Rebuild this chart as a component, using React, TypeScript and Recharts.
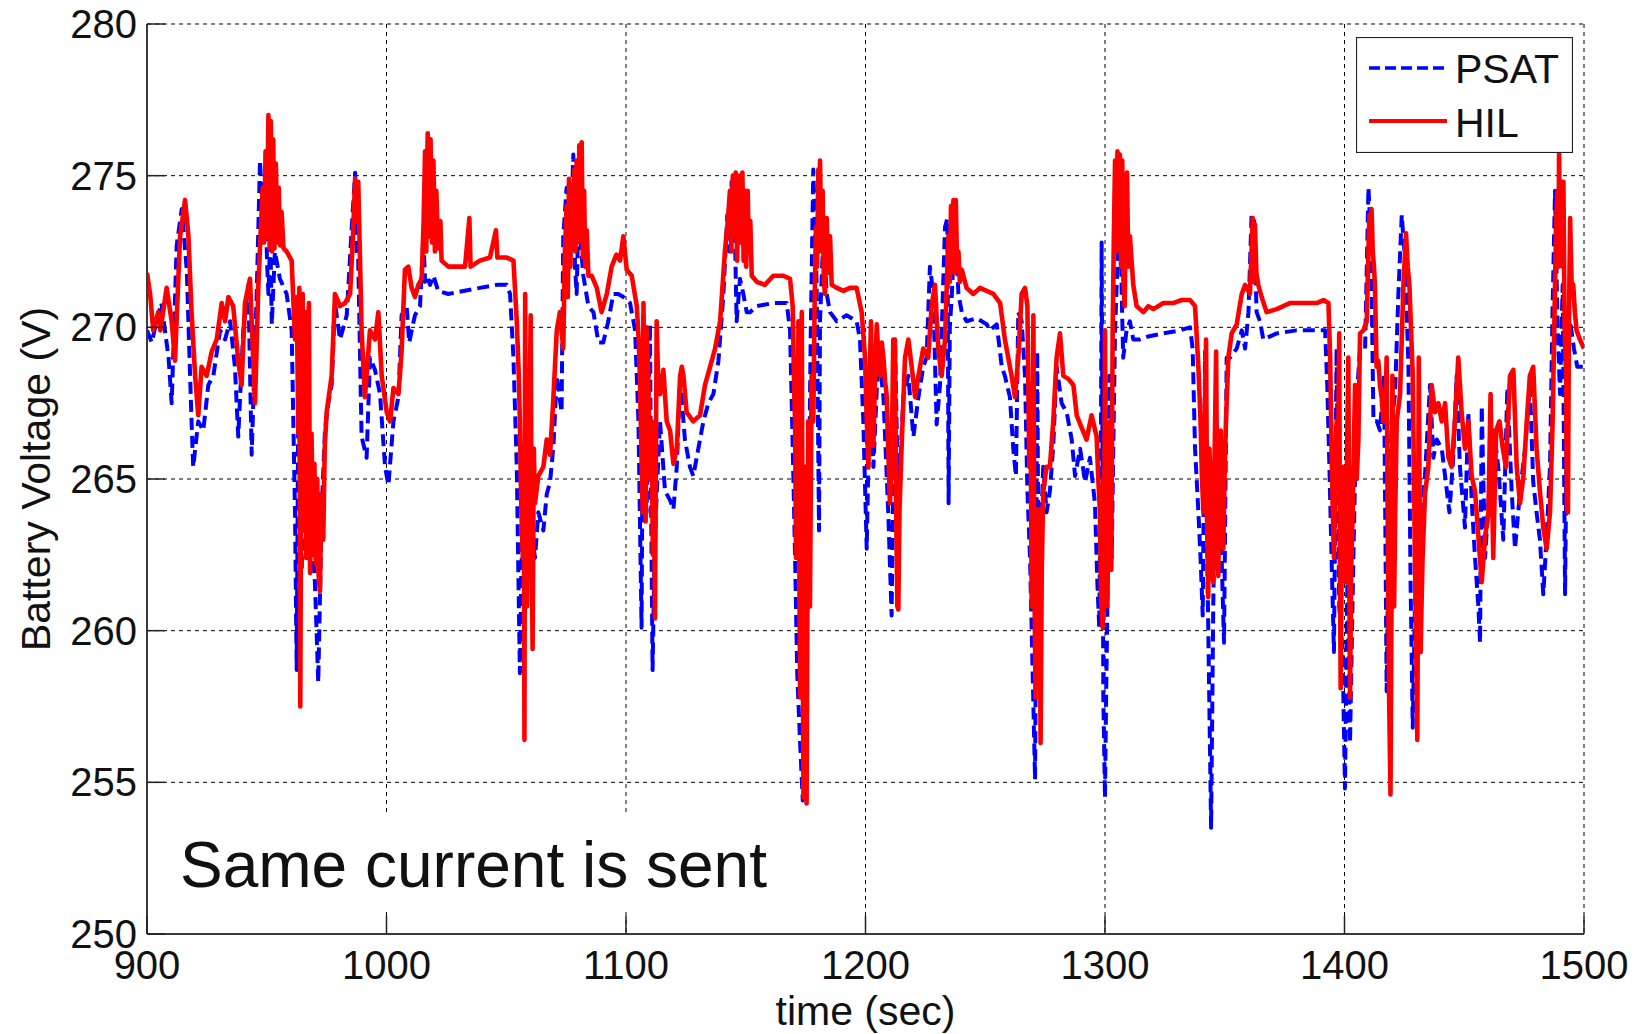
import React from 'react';
import { LineChart, Line, XAxis, YAxis, CartesianGrid, Legend } from 'recharts';

// ---- axis ticks ----
const xTicks = [900, 1000, 1100, 1200, 1300, 1400, 1500];
const yTicks = [250, 255, 260, 265, 270, 275, 280];

// ---- series: [time (sec), battery voltage (V)] ----
const psatPoints: [number, number][] = [
  [900, 269.9], [902, 269.5], [904, 270.2], [906, 270.8], [909, 269.0], [910.3, 267.5], [912.4, 272.7], [914.5, 273.9],
  [916.6, 271.9], [918.6, 266.9], [919.3, 265.4], [921.4, 266.9], [923.5, 266.6], [925.6, 268.1], [927.7, 268.4],
  [930.5, 269.9], [932.6, 269.6], [934.7, 270.2], [936.7, 268.7], [938.1, 266.4], [940.2, 269.9], [942.3, 271.4],
  [943.7, 265.8], [945.8, 271.1], [947.2, 275.5], [948.3, 273.5], [949.3, 274.5], [950.2, 272.0], [950.7, 271.1],
  [951.5, 273.0], [952.1, 270.1], [953.4, 272.5], [955.5, 271.6], [958.3, 271.1], [960.4, 269.9], [961.8, 263.9],
  [962.5, 258.7], [963.2, 268.0], [963.9, 265.1], [964.6, 262.0], [965.3, 266.0], [966.0, 263.9], [967.0, 266.0],
  [968.1, 265.4], [969.0, 263.0], [970.1, 261.6], [970.8, 260.0], [971.5, 258.3], [972.2, 261.0], [972.9, 263.9],
  [974.3, 266.6], [975.7, 267.5], [977.1, 268.1], [978.5, 270.8], [980.6, 269.6], [983.4, 270.4], [985.5, 273.3],
  [986.9, 275.1], [987.5, 272.5], [988.2, 272.2], [989.6, 266.4], [991.7, 265.7], [993.1, 269.0], [995.2, 268.6],
  [997.3, 267.8], [999.4, 265.4], [1000.8, 264.8], [1002.9, 266.9], [1005.0, 267.7], [1006.3, 270.4], [1008.4, 270.7],
  [1009.5, 269.5], [1010.5, 269.9], [1011.9, 270.4], [1014.0, 270.7], [1015.4, 273.0], [1016.1, 271.5], [1016.8, 271.7],
  [1018.2, 271.4], [1019.6, 271.7], [1021.6, 271.2], [1025.8, 271.1], [1032.1, 271.2], [1039.0, 271.3], [1046.0, 271.4],
  [1050.2, 271.4], [1051.6, 271.1], [1053.0, 269.0], [1054.4, 265.4], [1055.0, 262.2], [1055.7, 258.6], [1056.3, 262.0],
  [1057.1, 263.9], [1057.8, 260.5], [1058.5, 262.4], [1059.2, 264.0], [1059.9, 264.6], [1061.0, 263.0], [1062.0, 262.4],
  [1063.4, 263.9], [1065.5, 263.3], [1066.9, 264.5], [1068.3, 264.9], [1069.7, 266.1], [1071.1, 268.4], [1073.1, 267.2],
  [1073.8, 273.0], [1075.2, 274.6], [1076.6, 272.2], [1078.0, 275.7], [1078.7, 272.0], [1079.4, 271.1], [1080.1, 273.5],
  [1080.8, 273.0], [1082.2, 271.7], [1084.3, 270.7], [1086.4, 270.5], [1088.5, 269.5], [1090.5, 269.5], [1092.6, 270.2],
  [1094.7, 271.1], [1096.8, 271.1], [1098.9, 271.0], [1101.7, 270.8], [1103.8, 269.9], [1105.2, 266.9], [1106.5, 260.1],
  [1107.2, 270.4], [1107.8, 265.0], [1108.6, 263.9], [1109.3, 267.0], [1110.0, 270.1], [1110.5, 264.0], [1111.1, 258.7],
  [1111.8, 262.0], [1112.5, 263.9], [1114.2, 266.9], [1116.3, 264.6], [1118.4, 264.3], [1119.8, 264.0], [1121.2, 265.4],
  [1122.6, 268.3], [1124.6, 266.3], [1126.7, 265.4], [1128.1, 265.1], [1130.2, 266.0], [1132.3, 266.9], [1134.4, 267.5],
  [1136.5, 267.8], [1138.6, 268.9], [1140.6, 271.0], [1142.3, 273.7], [1143.2, 272.5], [1144.1, 274.8], [1144.8, 273.5],
  [1145.5, 273.0], [1146.2, 270.2], [1147.6, 271.6], [1149.0, 271.1], [1150.4, 270.5], [1151.8, 270.5], [1154.6, 270.7],
  [1161.5, 270.8], [1167.1, 270.8], [1168.5, 269.9], [1169.6, 266.1], [1170.6, 262.4], [1171.5, 258.6], [1172.7, 256.3],
  [1173.8, 254.4], [1174.7, 259.3], [1176.1, 262.4], [1177.1, 269.6], [1178.2, 275.2], [1179.0, 273.0], [1179.6, 271.4],
  [1180.6, 263.3], [1181.0, 270.2], [1182.4, 273.0], [1183.8, 271.1], [1185.2, 270.5], [1188.0, 270.2], [1192.1, 270.4],
  [1196.3, 270.2], [1197.7, 269.6], [1199.1, 266.9], [1200.5, 262.7], [1201.9, 268.4], [1203.3, 265.4], [1205.4, 269.2],
  [1207.5, 267.7], [1209.5, 263.9], [1210.9, 260.5], [1212.3, 269.6], [1213.7, 264.0], [1215.8, 267.7], [1217.9, 268.4],
  [1220.0, 266.4], [1222.1, 267.7], [1224.1, 268.7], [1225.5, 269.0], [1226.9, 272.0], [1228.3, 271.1], [1229.7, 266.8],
  [1231.1, 268.1], [1233.2, 273.3], [1234.2, 273.6], [1234.7, 264.2], [1235.2, 270.0], [1236.0, 271.0], [1237.4, 273.6],
  [1238.8, 271.1], [1240.2, 270.5], [1242.2, 270.2], [1246.4, 270.3], [1250.6, 270.1], [1252.0, 269.9], [1254.8, 270.1],
  [1256.9, 268.7], [1258.2, 268.4], [1260.3, 267.7], [1261.7, 266.0], [1262.8, 265.1], [1263.8, 270.5], [1265.2, 270.2],
  [1266.6, 268.4], [1267.6, 264.6], [1268.7, 262.4], [1269.8, 258.6], [1270.8, 255.1], [1271.3, 262.0], [1271.7, 269.2],
  [1272.2, 262.0], [1272.9, 262.4], [1274.2, 265.4], [1275.6, 263.9], [1277.0, 264.6], [1278.4, 266.1], [1279.8, 268.7],
  [1281.9, 267.5], [1284.0, 267.2], [1286.1, 266.3], [1287.5, 265.1], [1289.6, 266.0], [1291.7, 264.9], [1293.7, 265.7],
  [1295.8, 264.2], [1296.8, 261.6], [1297.6, 260.1], [1298.3, 266.0], [1298.6, 272.8], [1299.0, 265.0], [1299.3, 257.8],
  [1300.0, 254.5], [1300.5, 258.0], [1301.0, 260.8], [1301.8, 268.4], [1302.8, 262.4], [1304.2, 269.9], [1305.6, 273.0],
  [1306.3, 274.5], [1307.0, 271.0], [1307.6, 269.0], [1309.0, 269.9], [1310.4, 270.2], [1311.8, 269.6], [1314.6, 269.6],
  [1318.1, 269.7], [1324.4, 269.8], [1331.3, 269.9], [1335.5, 270.0], [1336.6, 269.3], [1337.6, 266.0], [1339.0, 263.9],
  [1339.9, 262.4], [1340.8, 260.5], [1341.8, 269.2], [1342.7, 262.4], [1343.8, 256.3], [1344.3, 253.5], [1345.2, 260.8],
  [1346.4, 267.2], [1347.7, 263.9], [1348.7, 262.4], [1349.7, 259.6], [1350.8, 269.0], [1352.2, 269.0], [1355.0, 269.3],
  [1357.1, 269.9], [1358.5, 269.3], [1359.9, 270.5], [1361.2, 273.7], [1362.2, 273.6], [1363.3, 270.5], [1364.7, 270.2],
  [1366.1, 269.6], [1371.7, 269.8], [1380.0, 269.9], [1387.0, 269.9], [1391.9, 269.9], [1392.8, 268.1], [1393.7, 265.4],
  [1394.6, 262.4], [1395.6, 259.3], [1396.7, 269.3], [1397.8, 260.8], [1399.2, 259.3], [1400.2, 254.8], [1401.2, 261.6],
  [1402.3, 256.3], [1403.7, 262.4], [1405.1, 267.7], [1406.5, 269.3], [1408.6, 269.3], [1410.0, 274.6], [1411.0, 273.0],
  [1412.1, 266.9], [1413.5, 266.9], [1414.8, 266.6], [1416.5, 268.4], [1417.2, 262.0], [1417.6, 258.0], [1418.3, 262.4],
  [1419.7, 266.9], [1421.1, 267.8], [1422.5, 271.1], [1423.9, 273.7], [1425.3, 272.2], [1426.7, 268.7], [1427.6, 261.5],
  [1428.5, 256.8], [1429.4, 260.8], [1430.8, 262.4], [1432.2, 263.9], [1433.6, 265.1], [1435.7, 268.1], [1437.1, 265.7],
  [1438.5, 266.3], [1440.6, 266.0], [1442.0, 265.1], [1443.8, 263.9], [1445.4, 265.7], [1446.8, 268.4], [1448.2, 265.4],
  [1450.3, 263.4], [1451.7, 267.2], [1453.1, 264.3], [1454.5, 262.4], [1455.9, 260.8], [1456.6, 259.6], [1457.3, 267.4],
  [1458.7, 262.4], [1460.8, 265.1], [1462.4, 266.6], [1464.2, 265.4], [1466.3, 263.0], [1468.0, 268.0], [1469.8, 264.6],
  [1471.2, 262.7], [1473.3, 264.6], [1475.4, 266.0], [1477.4, 268.1], [1478.8, 264.9], [1480.2, 263.9], [1481.6, 263.0],
  [1483.0, 261.2], [1484.4, 263.1], [1485.8, 265.4], [1486.9, 270.7], [1487.9, 274.5], [1489.0, 269.9], [1490.0, 267.8],
  [1491.1, 271.4], [1492.1, 261.2], [1493.0, 268.4], [1494.2, 270.2], [1495.8, 269.3], [1497.2, 268.7], [1500.0, 268.7],
];

const hilPoints: [number, number][] = [
  [900, 271.8], [901.3, 271.1], [902.6, 269.9], [904.7, 270.5], [905.6, 269.9], [908.2, 271.3], [910.3, 270.2], [911.7, 268.9],
  [913.8, 273.0], [915.9, 274.2], [917.3, 273.0], [918.6, 270.5], [920.1, 268.4], [921.4, 267.1], [922.8, 268.7],
  [924.9, 268.4], [927.0, 269.2], [929.1, 269.6], [931.2, 270.8], [932.6, 270.2], [934.0, 271.0], [936.0, 270.7],
  [938.1, 268.9], [939.5, 268.1], [940.9, 270.8], [943.0, 271.6], [945.1, 267.5], [946.5, 271.4], [947.5, 273.2],
  [948.3, 274.6], [948.9, 272.8], [949.5, 275.8], [950.1, 273.0], [950.7, 277.0], [951.2, 272.6], [951.7, 276.8],
  [952.2, 272.5], [952.7, 276.2], [953.2, 272.6], [953.8, 275.4], [954.4, 272.8], [955.0, 274.6], [955.6, 272.7],
  [956.2, 273.8], [957.0, 272.6], [958.3, 272.5], [960.4, 272.2], [961.8, 269.6], [962.5, 271.0], [963.2, 266.5],
  [963.6, 271.3], [964.0, 257.5], [964.5, 268.0], [965.0, 271.1], [965.5, 263.5], [966.0, 270.5], [966.5, 262.4],
  [967.0, 269.0], [967.6, 270.8], [968.1, 261.9], [968.7, 266.5], [969.3, 262.5], [969.9, 265.5], [970.5, 262.2],
  [971.1, 265.0], [971.6, 261.9], [972.2, 261.3], [972.8, 264.5], [973.6, 263.0], [974.2, 266.0], [975.0, 267.2],
  [977.1, 268.4], [978.5, 271.1], [980.6, 270.7], [982.7, 270.8], [984.8, 271.1], [986.0, 273.0], [986.9, 274.9],
  [987.5, 273.5], [988.2, 274.8], [989.6, 269.9], [991.0, 267.7], [993.1, 269.9], [995.2, 269.6], [996.6, 270.5],
  [998.0, 268.4], [1000.1, 267.2], [1001.5, 266.9], [1002.9, 268.0], [1005.0, 267.8], [1006.3, 269.2], [1007.7, 271.9],
  [1009.1, 272.0], [1010.5, 271.3], [1011.9, 271.0], [1013.3, 271.4], [1014.7, 271.6], [1015.5, 273.5], [1016.1, 275.8],
  [1016.6, 272.5], [1017.2, 276.4], [1017.8, 273.0], [1018.4, 276.2], [1019.0, 272.8], [1019.6, 275.5], [1020.2, 272.5],
  [1020.8, 274.5], [1021.6, 272.6], [1022.5, 273.5], [1023.0, 272.2], [1025.8, 272.0], [1029.3, 272.0], [1032.8, 272.0],
  [1034.6, 273.6], [1035.1, 272.0], [1039.0, 272.2], [1043.2, 272.3], [1045.7, 273.2], [1046.3, 272.3], [1050.2, 272.3],
  [1053.0, 272.2], [1054.4, 270.2], [1055.2, 268.5], [1055.7, 266.9], [1056.3, 264.0], [1056.9, 262.4], [1057.3, 266.0],
  [1057.6, 256.4], [1057.9, 271.1], [1058.3, 262.0], [1058.7, 260.8], [1059.2, 265.4], [1059.7, 267.0], [1060.2, 270.4],
  [1060.6, 263.0], [1061.0, 259.4], [1061.5, 266.0], [1062.0, 264.2], [1063.4, 265.1], [1065.5, 265.4], [1066.9, 266.3],
  [1068.3, 265.8], [1069.7, 267.7], [1071.1, 269.9], [1072.4, 270.5], [1073.8, 269.3], [1074.5, 272.5], [1075.2, 274.0],
  [1075.7, 271.0], [1076.2, 274.9], [1076.8, 272.0], [1077.3, 274.5], [1077.8, 273.0], [1078.4, 275.2], [1078.9, 272.5],
  [1079.4, 275.5], [1080.0, 272.8], [1080.5, 276.0], [1081.0, 273.0], [1081.5, 276.1], [1082.0, 272.3], [1082.5, 274.5],
  [1083.0, 272.0], [1083.6, 273.2], [1084.3, 271.7], [1085.7, 271.7], [1087.8, 271.3], [1089.8, 270.5], [1092.0, 271.1],
  [1094.0, 272.0], [1096.0, 272.4], [1097.5, 272.2], [1098.9, 273.0], [1100.3, 271.9], [1102.4, 271.7], [1104.5, 270.7],
  [1105.3, 269.6], [1105.8, 268.4], [1106.4, 266.0], [1107.0, 263.9], [1107.3, 270.8], [1107.8, 266.0], [1108.2, 263.6],
  [1108.6, 270.0], [1109.3, 268.4], [1110.0, 265.0], [1110.7, 266.9], [1111.2, 262.5], [1111.7, 265.0], [1112.1, 260.4],
  [1112.5, 266.0], [1112.8, 270.2], [1113.5, 268.0], [1114.2, 267.8], [1115.6, 268.6], [1117.0, 266.9], [1118.4, 266.6],
  [1119.8, 265.5], [1121.2, 266.0], [1122.6, 268.4], [1123.3, 268.7], [1124.0, 268.4], [1125.3, 267.2], [1128.1, 266.9],
  [1130.9, 267.1], [1133.0, 268.1], [1135.1, 268.7], [1137.2, 269.3], [1139.3, 270.2], [1141.3, 272.5], [1142.5, 273.5],
  [1143.4, 274.5], [1144.0, 272.5], [1144.6, 275.0], [1145.2, 273.0], [1145.8, 275.1], [1146.4, 272.2], [1146.9, 273.7],
  [1147.5, 275.0], [1148.0, 272.8], [1148.6, 275.1], [1149.1, 272.2], [1149.7, 274.5], [1150.2, 272.0], [1150.8, 274.5],
  [1151.3, 272.6], [1151.9, 273.5], [1152.5, 271.7], [1154.6, 271.5], [1158.0, 271.4], [1161.5, 271.7], [1165.7, 271.7],
  [1168.5, 271.6], [1169.6, 270.7], [1170.2, 268.0], [1170.6, 266.9], [1171.0, 262.4], [1171.4, 269.0], [1171.7, 264.0],
  [1172.0, 270.2], [1172.4, 262.0], [1172.7, 257.8], [1173.0, 266.0], [1173.4, 270.5], [1173.8, 260.0], [1174.1, 254.5],
  [1174.4, 262.0], [1174.7, 265.4], [1175.1, 257.0], [1175.4, 254.3], [1175.8, 262.0], [1176.1, 266.9], [1176.5, 263.0],
  [1176.8, 260.8], [1177.2, 265.0], [1177.5, 268.4], [1178.2, 266.9], [1178.8, 271.0], [1179.3, 273.3], [1179.8, 272.0],
  [1180.3, 275.2], [1180.7, 272.5], [1181.0, 275.5], [1181.5, 273.0], [1182.1, 274.5], [1182.6, 271.5], [1183.1, 271.1],
  [1183.8, 273.6], [1184.5, 271.8], [1185.2, 273.0], [1185.9, 271.4], [1188.0, 271.3], [1190.8, 271.2], [1193.5, 271.3],
  [1196.3, 271.3], [1198.4, 270.5], [1199.8, 269.0], [1200.5, 267.0], [1201.2, 265.4], [1201.8, 268.5], [1202.3, 270.2],
  [1202.8, 267.5], [1203.3, 266.1], [1204.0, 268.5], [1204.7, 270.1], [1205.4, 269.0], [1206.1, 268.4], [1206.8, 269.5],
  [1207.5, 269.0], [1208.2, 268.2], [1208.8, 267.8], [1209.5, 266.0], [1210.2, 264.2], [1210.9, 265.4], [1211.6, 269.6],
  [1212.3, 269.6], [1212.8, 264.0], [1213.3, 260.8], [1213.7, 260.7], [1214.2, 264.0], [1215.1, 266.1], [1216.5, 269.0],
  [1217.9, 269.6], [1219.3, 268.7], [1220.7, 267.7], [1222.1, 268.4], [1224.1, 269.3], [1226.2, 269.0], [1227.6, 270.7],
  [1229.0, 271.4], [1230.4, 269.3], [1231.8, 268.4], [1233.2, 269.6], [1234.6, 273.0], [1235.2, 271.5], [1235.7, 274.0],
  [1236.2, 272.0], [1236.7, 274.2], [1237.2, 271.8], [1237.7, 274.2], [1238.2, 272.2], [1238.8, 272.5], [1239.4, 271.5],
  [1240.2, 271.9], [1242.2, 271.3], [1245.0, 271.1], [1247.8, 271.3], [1250.6, 271.2], [1253.4, 271.1], [1256.2, 270.8],
  [1258.2, 269.6], [1259.6, 269.0], [1261.0, 268.4], [1262.4, 267.7], [1263.8, 269.0], [1265.2, 271.1], [1266.6, 271.3],
  [1267.6, 270.7], [1268.4, 265.4], [1268.9, 268.0], [1269.4, 260.8], [1269.8, 266.0], [1270.1, 270.4], [1270.5, 262.0],
  [1271.0, 257.8], [1271.4, 264.0], [1271.8, 262.5], [1272.2, 260.1], [1272.6, 264.0], [1273.1, 256.3], [1273.6, 262.0],
  [1274.2, 264.6], [1275.6, 265.4], [1277.0, 265.4], [1278.4, 266.9], [1279.8, 269.0], [1281.2, 269.8], [1282.6, 268.4],
  [1284.7, 268.3], [1286.8, 268.1], [1288.2, 267.1], [1290.2, 266.7], [1292.3, 266.3], [1294.4, 267.1], [1296.5, 266.4],
  [1297.2, 265.0], [1297.9, 263.9], [1298.4, 261.0], [1299.0, 260.1], [1299.3, 265.0], [1299.6, 262.0], [1300.0, 269.9],
  [1300.5, 263.0], [1301.0, 260.8], [1301.5, 265.0], [1302.1, 266.9], [1302.6, 262.0], [1303.2, 269.9], [1303.7, 273.0],
  [1304.2, 275.5], [1304.7, 272.5], [1305.2, 275.8], [1305.7, 273.0], [1306.2, 275.7], [1306.7, 272.0], [1307.2, 275.5],
  [1307.7, 271.5], [1308.2, 270.7], [1308.7, 274.0], [1309.2, 275.1], [1309.7, 272.0], [1310.4, 273.0], [1311.1, 272.2],
  [1311.8, 271.4], [1313.2, 270.7], [1316.0, 270.5], [1318.1, 270.7], [1320.2, 270.6], [1324.4, 270.8], [1328.5, 270.8],
  [1332.0, 270.9], [1335.5, 270.9], [1337.6, 270.7], [1339.0, 268.7], [1339.9, 266.9], [1340.5, 265.0], [1341.1, 263.9],
  [1341.6, 266.5], [1342.2, 269.6], [1342.6, 264.0], [1343.1, 261.1], [1343.6, 266.0], [1344.1, 264.9], [1344.6, 262.0],
  [1345.2, 261.6], [1345.8, 266.0], [1346.4, 269.2], [1346.8, 264.0], [1347.3, 261.8], [1347.8, 265.0], [1348.3, 266.6],
  [1348.9, 263.0], [1349.4, 262.7], [1350.0, 265.5], [1350.5, 266.9], [1351.5, 269.0], [1352.9, 269.8], [1355.0, 270.1],
  [1357.1, 271.1], [1358.5, 271.4], [1360.5, 271.1], [1361.2, 272.5], [1361.7, 273.6], [1362.1, 271.5], [1362.6, 273.4],
  [1363.2, 271.8], [1364.0, 271.4], [1365.4, 271.0], [1367.5, 270.5], [1371.7, 270.6], [1377.2, 270.8], [1382.8, 270.8],
  [1388.4, 270.8], [1391.2, 270.9], [1393.3, 270.8], [1394.0, 269.0], [1394.6, 266.0], [1395.1, 264.0], [1395.6, 262.4],
  [1396.1, 265.0], [1396.7, 266.9], [1397.2, 265.0], [1397.8, 269.8], [1398.1, 262.0], [1398.4, 258.1], [1398.9, 263.0],
  [1399.5, 265.4], [1400.0, 263.0], [1400.6, 261.6], [1401.1, 266.0], [1401.6, 269.0], [1402.0, 262.0], [1402.3, 257.8],
  [1402.8, 262.0], [1403.4, 263.9], [1403.9, 266.0], [1404.4, 268.1], [1405.1, 265.0], [1405.8, 266.3], [1406.5, 269.8],
  [1407.9, 269.9], [1409.3, 270.2], [1410.0, 272.5], [1410.4, 273.7], [1410.9, 272.5], [1411.3, 273.9], [1411.8, 272.5],
  [1412.3, 272.0], [1412.7, 271.4], [1413.4, 268.7], [1414.1, 268.9], [1414.8, 268.1], [1415.5, 267.7], [1416.2, 266.9],
  [1416.9, 266.9], [1417.6, 269.0], [1418.2, 262.0], [1418.6, 258.0], [1419.2, 254.6], [1419.7, 262.0], [1420.0, 268.4],
  [1420.4, 264.0], [1420.7, 260.8], [1421.2, 264.0], [1421.8, 266.9], [1423.2, 267.8], [1424.6, 271.4], [1425.7, 273.1],
  [1426.4, 272.0], [1427.1, 271.4], [1428.5, 268.4], [1429.4, 262.4], [1430.0, 259.0], [1430.4, 256.4], [1430.7, 262.0],
  [1431.0, 269.0], [1431.4, 264.0], [1431.8, 259.3], [1432.2, 261.0], [1432.6, 262.4], [1433.6, 264.5], [1435.0, 265.4],
  [1436.4, 268.1], [1437.8, 267.2], [1439.2, 267.5], [1440.6, 266.9], [1442.0, 267.5], [1443.4, 265.7], [1444.7, 265.4],
  [1446.1, 266.9], [1447.5, 269.0], [1448.9, 267.2], [1450.3, 266.0], [1451.7, 266.9], [1453.1, 265.1], [1454.5, 264.6],
  [1455.9, 263.1], [1457.3, 261.6], [1458.7, 263.1], [1460.1, 263.9], [1461.0, 267.8], [1462.1, 262.4], [1463.3, 266.6],
  [1464.7, 266.9], [1466.1, 266.0], [1467.4, 265.4], [1469.1, 268.4], [1470.5, 268.6], [1471.9, 265.4], [1473.3, 264.2],
  [1474.7, 265.1], [1476.1, 266.9], [1477.4, 268.4], [1478.8, 268.7], [1480.2, 266.0], [1481.6, 264.6], [1483.0, 263.4],
  [1484.4, 262.7], [1485.8, 263.9], [1486.9, 266.9], [1487.9, 271.4], [1488.4, 273.5], [1488.9, 274.5], [1489.3, 272.0],
  [1489.6, 275.8], [1490.0, 272.5], [1490.3, 273.0], [1490.8, 274.8], [1491.1, 272.0], [1491.4, 274.8], [1491.9, 270.0],
  [1492.5, 268.4], [1492.9, 264.0], [1493.3, 263.9], [1493.7, 270.0], [1494.2, 273.6], [1494.8, 271.5], [1495.5, 271.4],
  [1496.2, 270.5], [1496.9, 269.9], [1498.3, 269.6], [1500.0, 269.3],
];

const psatData = psatPoints.map(([t, v]) => ({ t, v }));
const hilData = hilPoints.map(([t, v]) => ({ t, v }));

// ---- layout / style ----
const W = 1645;
const H = 1034;
const PLOT_LEFT = 147;
const PLOT_TOP = 24;
const PLOT_RIGHT = 1584;
const PLOT_BOTTOM = 934;
const FONT = "'Liberation Sans', Arial, Helvetica, sans-serif";
const TEXT = '#111';
const TICK_LEN = 18;
const BLUE = '#0000FF';
const RED = '#FF0000';
const BLUE_W = 4;
const RED_W = 4.6;
const BLUE_DASH = '12 6';
const AXIS_LINE = { stroke: '#3a3a3a', strokeWidth: 2 };

const BottomTick = (p: any) => (
  <g>
    <line x1={p.x} x2={p.x} y1={p.y} y2={p.y - TICK_LEN} stroke="#222" strokeWidth={1.5} />
    <text x={p.x} y={p.y + 45} textAnchor="middle" fontSize={40} fill={TEXT} fontFamily={FONT}>
      {p.payload.value}
    </text>
  </g>
);
const TopTick = (p: any) => (
  <line x1={p.x} x2={p.x} y1={p.y} y2={p.y + TICK_LEN} stroke="#222" strokeWidth={1.5} />
);
const LeftTick = (p: any) => (
  <g>
    <line x1={p.x} x2={p.x + TICK_LEN} y1={p.y} y2={p.y} stroke="#222" strokeWidth={1.5} />
    <text x={p.x - 10} y={p.y + 14} textAnchor="end" fontSize={40} fill={TEXT} fontFamily={FONT}>
      {p.payload.value}
    </text>
  </g>
);
const RightTick = (p: any) => (
  <line x1={p.x} x2={p.x - TICK_LEN} y1={p.y} y2={p.y} stroke="#222" strokeWidth={1.5} />
);

const LegendBox = () => (
  <svg width={217} height={116} style={{ display: 'block' }}>
    <rect x={0.5} y={0.5} width={216} height={115} fill="#fff" stroke="#222" strokeWidth={1.2} />
    <line x1={13} x2={91} y1={31} y2={31} stroke={BLUE} strokeWidth={3.5} strokeDasharray="11 5" />
    <text x={99} y={46} fontSize={41} fill={TEXT} fontFamily={FONT}>PSAT</text>
    <line x1={13} x2={91} y1={84} y2={84} stroke={RED} strokeWidth={4} />
    <text x={99} y={100} fontSize={41} fill={TEXT} fontFamily={FONT}>HIL</text>
  </svg>
);

export default function App() {
  return (
    <div style={{ position: 'absolute', left: 0, top: 0, width: W, height: H, background: '#fff', fontFamily: FONT }}>
      <LineChart
        width={W}
        height={H}
        margin={{ top: PLOT_TOP, right: W - PLOT_RIGHT, bottom: 0, left: 0 }}
      >
        <CartesianGrid stroke="#000" strokeWidth={1} strokeDasharray="4 4" />
        <XAxis
          dataKey="t"
          type="number"
          domain={[900, 1500]}
          ticks={xTicks}
          allowDataOverflow
          height={H - PLOT_BOTTOM}
          tickSize={0}
          tickMargin={0}
          tickLine={false}
          axisLine={AXIS_LINE}
          tick={BottomTick}
          interval={0}
          label={{
            value: 'time (sec)',
            content: () => (
              <text x={(PLOT_LEFT + PLOT_RIGHT) / 2} y={1025} textAnchor="middle" fontSize={41} fill={TEXT} fontFamily={FONT}>
                time (sec)
              </text>
            ),
          }}
        />
        <XAxis
          xAxisId="top"
          orientation="top"
          dataKey="t"
          type="number"
          domain={[900, 1500]}
          ticks={xTicks}
          allowDataOverflow
          height={0}
          tickSize={0}
          tickMargin={0}
          tickLine={false}
          axisLine={AXIS_LINE}
          tick={TopTick}
          interval={0}
        />
        <YAxis
          type="number"
          domain={[250, 280]}
          ticks={yTicks}
          allowDataOverflow
          width={PLOT_LEFT}
          tickSize={0}
          tickMargin={0}
          tickLine={false}
          axisLine={AXIS_LINE}
          tick={LeftTick}
          interval={0}
          label={{
            value: 'Battery Voltage (V)',
            content: () => (
              <text
                x={50}
                y={479}
                transform="rotate(-90, 50, 479)"
                textAnchor="middle"
                fontSize={41}
                fill={TEXT}
                fontFamily={FONT}
              >
                Battery Voltage (V)
              </text>
            ),
          }}
        />
        <YAxis
          yAxisId="right"
          orientation="right"
          type="number"
          domain={[250, 280]}
          ticks={yTicks}
          allowDataOverflow
          width={0}
          tickSize={0}
          tickMargin={0}
          tickLine={false}
          axisLine={AXIS_LINE}
          tick={RightTick}
          interval={0}
        />
        <Line
          data={psatData}
          dataKey="v"
          name="PSAT"
          type="linear"
          stroke={BLUE}
          strokeWidth={BLUE_W}
          strokeDasharray={BLUE_DASH}
          strokeLinejoin="round"
          dot={false}
          activeDot={false}
          isAnimationActive={false}
        />
        <Line
          data={hilData}
          dataKey="v"
          name="HIL"
          type="linear"
          stroke={RED}
          strokeWidth={RED_W}
          strokeLinejoin="round"
          dot={false}
          activeDot={false}
          isAnimationActive={false}
        />
        <Legend
          layout="vertical"
          align="center"
          verticalAlign="middle"
          content={LegendBox}
          wrapperStyle={{ position: 'absolute', left: 1356, top: 37, width: 217, height: 116 }}
        />
      </LineChart>
      <svg
        width={640}
        height={100}
        style={{ position: 'absolute', left: 160, top: 812 }}
      >
        <rect x={0} y={0} width={640} height={100} fill="#fff" />
        <text x={20} y={75} fontSize={64} fill={TEXT} fontFamily={FONT}>
          Same current is sent
        </text>
      </svg>
    </div>
  );
}
